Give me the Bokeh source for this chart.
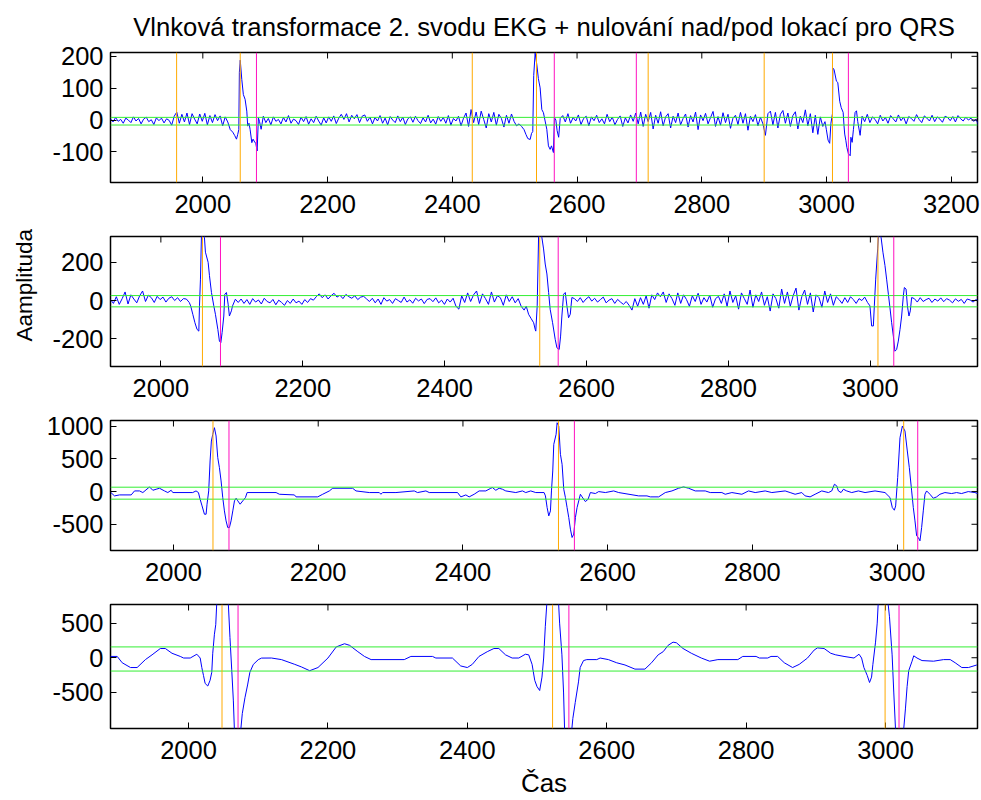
import numpy as np
from bokeh.plotting import figure
from bokeh.models import Span, Range1d, FixedTicker, Title
from bokeh.layouts import column
from bokeh.embed import file_html
from bokeh.resources import INLINE

FONT = "Liberation Sans"
FS = "25.5px"
BLUE = "#0000ff"
GREEN = "#33ee33"
ORANGE = "#ffaa00"
MAGENTA = "#ff10c0"

TITLE = "Vlnková transformace 2. svodu EKG + nulování nad/pod lokací pro QRS"
YLABEL = "Aamplituda"
XLABEL = "Čas"

# ---------------- axis limits and ticks ----------------
P1_XLIM = (1852, 3242); P1_YLIM = (-196, 212)
P2_XLIM = (1929, 3151); P2_YLIM = (-345, 335)
P3_XLIM = (1913, 3111); P3_YLIM = (-901, 1087)
P4_XLIM = (1888, 3132); P4_YLIM = (-1026, 772)

P1_XTICKS = [2000, 2200, 2400, 2600, 2800, 3000, 3200]
P1_YTICKS = [-100, 0, 100, 200]
P2_XTICKS = [2000, 2200, 2400, 2600, 2800, 3000]
P2_YTICKS = [-200, 0, 200]
P3_XTICKS = [2000, 2200, 2400, 2600, 2800, 3000]
P3_YTICKS = [-500, 0, 500, 1000]
P4_XTICKS = [2000, 2200, 2400, 2600, 2800, 3000]
P4_YTICKS = [-500, 0, 500]

# ---------------- markers ----------------
P1_ORANGE = [1958, 2060, 2432, 2535, 2714, 2900, 3009.5]
P1_MAGENTA = [2086, 2563.5, 2695, 3035]
P1_GREEN = [8.4, -15.6]
P2_ORANGE = [2058.6, 2534, 3010.7]
P2_MAGENTA = [2084, 2560, 3033]
P2_GREEN = [26, -33]
P3_ORANGE = [2054.6, 2532, 3009]
P3_MAGENTA = [2076.7, 2554, 3028.4]
P3_GREEN = [67, -116]
P4_ORANGE = [2048, 2522.3, 2999.4]
P4_MAGENTA = [2071, 2545.7, 3019.4]
P4_GREEN = [157, -193]

# ---------------- panel 1 signal ----------------
P1_A = [4, -6, 8, -4, 2, -10, 6, 0, -8, 10, -3, 5, -12, 3, 9, -5, 1, -14, 7, -2, 6, -9, 4, -1, -16,
        12, 25, -10, 18, -6, 22, -14, 20, 3, -12, 19, -4, 21, -15, 14, -8, 17, -2, 13, -18, 10, -6]
P1_Q1_T = [2044, 2048, 2051, 2054, 2056, 2057.7, 2058.6, 2060, 2062.5, 2065, 2067.8, 2070.5, 2072, 2074,
           2075.8, 2078.6, 2080.5, 2082.3, 2085, 2087.1, 2089.1, 2091, 2093.5]
P1_Q1_V = [-30, -38, -48, -60, -45, -30, 150, 188, 127, 80, 65, 28, -19, -10, -29, -71, -60, -66, -74, -97,
           7, -5, -29]
P1_B1 = [12, -8, 5, -15, 10, -4, 2, -12, 8, -6, 14, -10, 3, -2, -14, 9, -5, 11, -13, 4, -8, 12, -3, -16, 7,
         -9, 10, -4, 13, -11, 6]
P1_B2 = [18, 2, 20, -6, 15, 4, 17, -8, 12, 16, -4, 9]
P1_B3 = [-12, 8, -3, 14, -10, 6, -15, 11, 0, -8, 13, -5, 9, -14, 4, 10, -7, 12, -2, -11, 7, -6, 15, -9, 3,
         -13, 11, -4, 8, -10, 14, -16, 5, -3, 12, -18, 6]
P1_B4 = [22, -20, 33, -8, 25, -14, 28, 2, -25, 20, -6, 24, -16, 18, 5, -22, 15, -10, 19, -4, -18]
P1_Q2_T = [2507, 2511, 2515, 2518, 2521, 2524.8, 2527, 2529, 2530.5, 2532.8, 2535.5, 2538, 2540.8, 2543.5,
           2546.1, 2548.8, 2551.5, 2554.1, 2556.8, 2559, 2562.1, 2563.7, 2566, 2568, 2570.5, 2573]
P1_Q2_V = [-12, -20, -30, -45, -58, -61, -42, -36, 140, 210, 174, 130, 101, 33, 23, -3, -29, -81, -92, -81,
           -102, 8, 0, -33, -54, 5]
P1_C1 = [14, -6, 20, -10, 8, -3, 16, -14, 5, 12, -18, 10, -2, 15, -8, 4, -12, 18, -5, 9, -15, 2, 13, -20, 7,
         -9, 16, -4]
P1_C2 = [22, -12, 25, -20, 18, -5, 24, -28, 15, -10, 26, -18, 10, 20, -25, 12, -8, 22, -15, 5, 19, -22, 14,
         -6, 25, -30, 16, -2, 21, -12, 8, 27, -20, 11, -16, 23, -8, 18, -26, 6, 15, -14, 24, -10, 20, -32, 12,
         -5, 17, -18, 9, -12]
P1_C3 = [-48, 20, 28, -15, 24, -25, 18, 30, -10, 22, -20, 14, 26, -28, 12, -8, 32, -18, 20, -40, 15, -45, 10,
         -20]
P1_Q3_T = [2997.5, 2999.6, 3002.4, 3005, 3007, 3009.5, 3010.1, 3012.1, 3015.8, 3018, 3021.1, 3023.5, 3026.6,
           3028, 3029.1, 3031, 3032.6, 3035.1, 3037.9, 3039, 3041, 3043.1, 3045.8, 3048, 3050, 3053.8]
P1_Q3_V = [-5, -29, -63, -73, -10, 20, 163, 158, 122, 118, 59, 39, 24, -18, -44, -65, -86, -106, -112, -54,
           -70, -29, 24, 29, -5, -48]
P1_D = [12, -5, 18, -8, 10, 2, -12, 15, -3, 8, -10, 14, 4, -6, 16, -2, 9, -12, 11, 5, -4, 17, 2, -8, 13, 6,
        -3, 15, -5, 10, 3, -7, 12, 8, -2, 11, -6, 14, 4, -3, 9, 0, 6, -4, 2, -18]

# ---------------- panel 2 signal ----------------
P2_A = [5, -15, 20, -20, 10, 45, -18, 30, 8, -12, 25, 50, -5, 28, 15, -10, 22, 5, 18, -8, 12, 20, 0, 15, -5,
        10, 8, -10]
P2_Q1_T = [2042, 2045, 2048, 2051, 2053.5, 2054.4, 2055.8, 2057.2, 2059, 2061.4, 2062.8, 2066.6, 2068.5,
           2071.3, 2074.6, 2076.9, 2080.3, 2082.5, 2084.5, 2086.3, 2088.7, 2090.1, 2092.4, 2094.8, 2096.6,
           2099.4, 2101, 2105]
P2_Q1_V = [-28, -72, -116, -151, -160, -28, 112, 340, 430, 330, 253, 200, 130, 42, -28, -72, -151, -212,
           -221, -168, -81, 33, 42, -19, -81, -54, -28, 7]
P2_B1 = [-10, 8, -15, 5, -20, 10, -8, 3, -18, 12, -5, -12, 6, -22, 2, -10, -25, 0, -15, 8, -12, -3, -20, 5,
         -10, 10, 2]
P2_B2 = [20, 35, 15, 30, 8, 25, 38, 18, 28, 10, 32, 20, 12, 25, 5, 18, 22, 8]
P2_B3 = [-5, 12, -12, 8, -20, 15, -3, 5, -15, 10, 0, -10, 18, -8, 4, -14, 12, -2, 8, -16, 6, 10, -6, 14,
         -12, 2, -20, 8, -8, 12, -30, -45]
P2_B4 = [25, -10, 40, -5, 30, 50, -15, 35, 10, -20, 45, -8, 25, 15, -25, 30, -5, 20, -12, 10, -30, -50]
P2_Q2_T = [2515, 2518.3, 2522, 2525.4, 2527.6, 2528.4, 2530.4, 2532.4, 2535, 2537, 2539.4, 2541.7, 2544.1,
           2546.5, 2548.7, 2552.1, 2555.8, 2558.2, 2561.4, 2563.4, 2565.2, 2567.6, 2570, 2572.3, 2574.6,
           2577, 2579.3]
P2_Q2_V = [-30, -72, -95, -116, -151, -160, -28, 340, 420, 330, 270, 191, 139, 42, -46, -116, -203, -247,
           -256, -186, -81, 33, 42, -28, -90, -72, 16]
P2_C1 = [10, -5, 15, -10, 8, 20, -3, 12, -8, 5, 18, -12, 2, 10, -15, 6, -8, -20, -5, -25]
P2_C2 = [-50, 10, -30, 15, -20, 25, -40, 30, 5, 40]
P2_C3 = [20, 45, -10, 35, 10, -25, 40, -15, 30, 5, -30, 25, -5, 38, -20, 15, -8, 28, -35, 10, 22, -15]
P2_C4 = [35, -30, 50, -10, 25, -45, 40, 10, -20, 55, -35, 30, -5, 45, -25, 20, -55, 35, 10, -40, 60, -15,
         45, -30, 25, 65, -50, 20, 55, -20, 40, -60, 30, 15, -35, 50, -10, 35, -25, 20, 5, -15]
P2_C5 = [15, -10, 20, 5, -15, 10, 0, 18, -10]
P2_Q3_T = [2999.4, 3001.8, 3004.2, 3005.6, 3007.5, 3010.3, 3012, 3015.1, 3017.7, 3020.6, 3022.9, 3025.4,
           3027.6, 3030, 3032.4, 3034.6, 3037, 3039.4, 3041.8, 3044.1, 3046.5, 3047.9, 3050.3, 3052.2,
           3054.4, 3056.3, 3058.2]
P2_Q3_V = [-28, -133, -133, -28, 112, 270, 380, 330, 253, 183, 112, 33, -37, -116, -186, -265, -256, -212,
           -151, -81, 25, 68, 60, -28, -81, -54, 16]
P2_D = [10, -8, 15, -5, 5, 12, -10, 8, -3, 14, -6, 10, 2, -12, 9, -4, 6, -15, 8, 3, -8, 5, -2]

# ---------------- panel 3 signal ----------------
P3_A_T = [1913.5, 1918.6, 1925.5, 1941.6, 1946.2, 1953.1, 1957.7, 1966.9, 1971.5, 1976.1, 1980.7, 1987.6,
          1992.2, 1996.8, 1999.1, 2026.6, 2031.2, 2034.5]
P3_A_V = [-15, -66, -51, -51, 10, 10, -15, 71, 20, 36, 51, 10, -15, 20, -15, -15, 10, -15]
P3_Q1_T = [2036.8, 2039.5, 2042.8, 2045.1, 2046.4, 2048.7, 2050.6, 2052.4, 2054.3, 2056.6, 2058.9, 2061.2,
           2063.5, 2065.8, 2068.1, 2070.4, 2072.7, 2075, 2077.3, 2079.6, 2082, 2084.3, 2086.6, 2088.9,
           2092.1, 2095.8, 2099.5, 2101.8]
P3_Q1_V = [-117, -219, -346, -346, -193, 10, 468, 773, 875, 977, 850, 519, 366, 163, -91, -295, -448, -550,
           -550, -448, -295, -142, -102, -142, -193, -142, -91, -15]
P3_B_T = [2141.8, 2146.4, 2167.1, 2169.4, 2199.3, 2206.2, 2215.4, 2220, 2247.6, 2252.2, 2270.6, 2284.4,
          2286.7, 2289, 2307.4, 2332.7, 2337.3, 2348.8, 2353.4, 2392.5, 2397.1, 2404, 2408.6, 2415.5,
          2422.4, 2431.6, 2438.5, 2440.8, 2445.4, 2450, 2454.6, 2459.2, 2473, 2482.2, 2486.8, 2493.7,
          2500.6, 2512.1]
P3_B_V = [-15, -41, -51, -81, -81, -41, 10, 51, 51, 10, -15, -15, -41, -15, -15, 10, -15, 10, -15, -15,
          -81, -51, -81, -41, 10, 10, 51, 61, 20, 51, 36, 10, -15, 10, -15, 10, -15, -15]
P3_Q2_T = [2514, 2516.3, 2518.6, 2520.9, 2522.3, 2524.1, 2525.5, 2528.7, 2530.1, 2532.4, 2534.7, 2537,
           2539.3, 2541.6, 2543.9, 2546.2, 2548.5, 2550.8, 2553.1, 2555.4, 2557.7, 2560, 2562.3, 2564.6,
           2569.2, 2572.9, 2576.1]
P3_Q2_V = [-66, -244, -372, -295, 10, 315, 722, 875, 1053, 1002, 570, 417, 36, -91, -244, -397, -575, -702,
           -651, -397, -244, -142, -41, -81, -153, -117, -15]
P3_C_T = [2583, 2587.6, 2596.8, 2608.3, 2615.2, 2642.8, 2654.3, 2658.9, 2670.4, 2679.6, 2688.8, 2698,
          2704.9, 2711.8, 2721, 2734.8, 2741.7, 2757.8, 2762.4, 2771.6, 2785.4, 2794.6, 2803.8, 2817.6,
          2826.8, 2845.2, 2852.1, 2859, 2868.2, 2872.8, 2879.7, 2886.6, 2895.8, 2905, 2909.6, 2913.3,
          2916.5, 2918.8, 2922.5, 2925.7, 2930.3, 2937.2, 2946.4, 2955.6, 2969.4, 2983.2]
P3_C_V = [-30, 0, -15, 10, -15, -66, -66, -81, -81, -15, 10, 51, 71, 51, 10, 10, -15, -15, -41, -15, -41,
          10, -15, 10, -15, 10, -15, -41, -15, -66, -81, -41, 10, -15, 10, 112, 87, 10, -15, 36, 10, -15,
          10, -15, 10, -15]
P3_Q3_T = [2990.1, 2993.3, 2996.1, 2997.9, 3000.7, 3003.9, 3007.2, 3010.8, 3014, 3016.8, 3020, 3022.3,
           3024.6, 3026.9, 3029.2, 3031.5, 3033.8, 3036.1, 3038.4, 3040.7, 3045.3, 3049.9, 3054.5, 3059.1]
P3_Q3_V = [-91, -244, -285, -219, 214, 824, 1002, 926, 621, 366, 10, -244, -448, -677, -702, -753, -550,
           -295, -41, 10, -41, -102, -81, -41]
P3_D_T = [3066, 3075.2, 3082.1, 3089, 3098.2, 3107.4, 3114.3]
P3_D_V = [-15, -30, -15, -30, 0, -15, -41]

# ---------------- panel 4 signal ----------------
P4_A_T = [1887.6, 1897.6, 1904.8, 1916.7, 1926.2, 1938.1, 1947.6, 1959.5, 1966.7, 1976.2, 1988.1, 1992.9,
          2002.4, 2011.9, 2016.7]
P4_A_V = [19, 19, -73, -142, -142, -27, 42, 134, 134, 65, 19, -4, -4, 51, -4]
P4_Q1_T = [2019, 2021.4, 2023.8, 2027.6, 2030.9, 2033.3, 2034.7, 2037.1, 2039, 2040.4, 2044, 2048, 2052,
           2057.1, 2059.4, 2061.9, 2064.3, 2065.7, 2068, 2071, 2074, 2075.1, 2077.1, 2080.9, 2084.7, 2088,
           2092.9, 2100, 2104.7]
P4_Q1_V = [-142, -257, -373, -410, -327, -211, 65, 341, 479, 778, 1000, 1100, 1000, 778, 295, -166, -626,
           -1026, -1200, -1300, -1200, -1026, -810, -580, -395, -211, -97, -28, -5]
P4_B_T = [2119, 2133.3, 2152.4, 2161.9, 2173.8, 2185.7, 2200, 2211.9, 2223.8, 2231, 2242.9, 2252.4, 2261.9,
          2283.3, 2309.5, 2319, 2350, 2354.8, 2378.6, 2390.5, 2400, 2407.1, 2416.7, 2428.6, 2438.1, 2445.2,
          2454.8, 2464.3, 2473.8, 2483.3, 2488.1]
P4_B_V = [-4, -27, -96, -133, -188, -142, -4, 157, 203, 180, 88, 19, -27, -27, -27, 19, 19, -4, -4, -119,
          -142, -96, 19, 88, 134, 134, 42, -4, -4, 51, 42]
P4_Q2_T = [2492.9, 2496.7, 2500, 2503.8, 2507.1, 2509.5, 2511.9, 2514, 2518, 2522, 2526, 2531, 2532.4,
           2535.7, 2538.1, 2539.5, 2542, 2545, 2548, 2550, 2551.4, 2554.8, 2559.5, 2561.9, 2566.7, 2571.4]
P4_Q2_V = [-96, -327, -419, -475, -281, -4, 456, 778, 1000, 1100, 1000, 778, 502, 42, -511, -1026, -1200,
           -1300, -1200, -1026, -880, -650, -350, -142, -41, -27]
P4_C_T = [2585.7, 2590.5, 2602.4, 2614.3, 2626.2, 2640.5, 2654.8, 2664.3, 2673.8, 2681, 2688.1, 2695.2,
          2700, 2709.5, 2721.4, 2735.7, 2747.6, 2759.5, 2788.1, 2795.2, 2814.3, 2819, 2831, 2835.7, 2845.2,
          2854.8, 2866.7, 2876.2, 2888.1, 2897.6, 2902.4, 2911.9, 2921.4, 2928.6, 2940.5, 2954.8, 2962,
          2965.7]
P4_C_V = [-27, -4, -27, -73, -105, -165, -165, -73, 42, 88, 180, 226, 217, 134, 65, -4, -50, -27, -27, 19,
          19, -4, -4, 19, 19, -73, -142, -96, -4, 111, 143, 134, 65, 42, 19, -4, 51, -4]
P4_Q3_T = [2969, 2973.8, 2977.1, 2980, 2981.9, 2985.7, 2988.1, 2989.5, 2993, 2997, 3001, 3003.8, 3005.7,
           3009.5, 3011.9, 3014.3, 3017, 3020, 3023, 3026.2, 3028.6, 3031, 3033.3, 3038.1, 3040.5, 3045.2,
           3052.4]
P4_Q3_V = [-142, -257, -359, -281, -96, 226, 502, 778, 1000, 1100, 1000, 778, 594, 42, -511, -1026, -1200,
           -1300, -1200, -1026, -742, -419, -188, -50, 28, -4, -41]
P4_D_T = [3069, 3083.3, 3092.9, 3100, 3109.5, 3119, 3131]
P4_D_V = [-50, -27, -27, -73, -142, -142, -105]


def noise(x0, x1, vals):
    return list(np.linspace(x0, x1, len(vals))), list(vals)


def join(*parts):
    xs, ys = [], []
    for t, v in parts:
        xs.extend(t)
        ys.extend(v)
    xs = np.asarray(xs, dtype=float)
    ys = np.asarray(ys, dtype=float)
    order = np.argsort(xs, kind="stable")
    return xs[order], ys[order]


P1_X, P1_Y = join(noise(1852, 2040, P1_A), (P1_Q1_T, P1_Q1_V),
                  noise(2097, 2218, P1_B1), noise(2222, 2268, P1_B2), noise(2272, 2418, P1_B3),
                  noise(2422, 2503, P1_B4), (P1_Q2_T, P1_Q2_V),
                  noise(2577, 2690, P1_C1), noise(2694, 2898, P1_C2), noise(2902, 2994, P1_C3),
                  (P1_Q3_T, P1_Q3_V), noise(3057, 3244, P1_D))
P2_X, P2_Y = join(noise(1929, 2040, P2_A), (P2_Q1_T, P2_Q1_V),
                  noise(2109, 2215, P2_B1), noise(2219, 2290, P2_B2), noise(2294, 2420, P2_B3),
                  noise(2424, 2512, P2_B4), (P2_Q2_T, P2_Q2_V),
                  noise(2583, 2660, P2_C1), noise(2664, 2700, P2_C2), noise(2704, 2790, P2_C3),
                  noise(2794, 2960, P2_C4), noise(2964, 2996, P2_C5),
                  (P2_Q3_T, P2_Q3_V), noise(3062, 3153, P2_D))
P3_X, P3_Y = join((P3_A_T, P3_A_V), (P3_Q1_T, P3_Q1_V), (P3_B_T, P3_B_V), (P3_Q2_T, P3_Q2_V),
                  (P3_C_T, P3_C_V), (P3_Q3_T, P3_Q3_V), (P3_D_T, P3_D_V))
P4_X, P4_Y = join((P4_A_T, P4_A_V), (P4_Q1_T, P4_Q1_V), (P4_B_T, P4_B_V), (P4_Q2_T, P4_Q2_V),
                  (P4_C_T, P4_C_V), (P4_Q3_T, P4_Q3_V), (P4_D_T, P4_D_V))

TICK_LEN = 6
RIGHT_BORDER = 4
FRAME_H = 130


def style_axis(ax, ticks):
    ax.ticker = FixedTicker(ticks=ticks, minor_ticks=[])
    ax.axis_line_color = None
    ax.major_tick_in = TICK_LEN
    ax.major_tick_out = 0
    ax.major_tick_line_color = "black"
    ax.major_tick_line_width = 1
    ax.minor_tick_line_color = None
    ax.major_label_overrides = {t: str(t) for t in ticks}
    ax.major_label_text_font = FONT
    ax.major_label_text_font_size = FS
    ax.major_label_text_color = "black"


def make_panel(x, y, xlim, ylim, xticks, yticks, orange, magenta, green, left, top, bottom):
    p = figure(width=981, height=top + FRAME_H + bottom,
               x_range=Range1d(*xlim), y_range=Range1d(*ylim),
               output_backend="svg", toolbar_location=None,
               min_border_left=left, min_border_right=RIGHT_BORDER,
               min_border_top=top, min_border_bottom=bottom,
               background_fill_color="white", border_fill_color="white")
    p.xgrid.visible = False
    p.ygrid.visible = False
    p.outline_line_color = "black"
    p.outline_line_width = 1.5
    xa = p.below[0]
    ya = p.left[0]
    style_axis(xa, xticks)
    style_axis(ya, yticks)
    xa.major_label_standoff = 12
    ya.major_label_standoff = 7

    p.line(x, y, line_color=BLUE, line_width=1)
    for g in green:
        p.add_layout(Span(location=g, dimension="width", line_color=GREEN, line_width=1))
    for o in orange:
        p.add_layout(Span(location=o, dimension="height", line_color=ORANGE, line_width=1))
    for m in magenta:
        p.add_layout(Span(location=m, dimension="height", line_color=MAGENTA, line_width=1))
    # mirrored inner ticks on the top and right edges (box on)
    p.ray(x=xticks, y=[ylim[1]] * len(xticks), length=TICK_LEN, length_units="screen",
          angle=-np.pi / 2, line_color="black", line_width=1)
    p.ray(x=[xlim[1]] * len(yticks), y=yticks, length=TICK_LEN, length_units="screen",
          angle=np.pi, line_color="black", line_width=1)
    return p, xa, ya


p1, x1a, y1a = make_panel(P1_X, P1_Y, P1_XLIM, P1_YLIM, P1_XTICKS, P1_YTICKS, P1_ORANGE, P1_MAGENTA,
                          P1_GREEN, 110, 52, 44)
p2, x2a, y2a = make_panel(P2_X, P2_Y, P2_XLIM, P2_YLIM, P2_XTICKS, P2_YTICKS, P2_ORANGE, P2_MAGENTA,
                          P2_GREEN, 108, 10, 44)
p3, x3a, y3a = make_panel(P3_X, P3_Y, P3_XLIM, P3_YLIM, P3_XTICKS, P3_YTICKS, P3_ORANGE, P3_MAGENTA,
                          P3_GREEN, 108, 10, 44)
p4, x4a, y4a = make_panel(P4_X, P4_Y, P4_XLIM, P4_YLIM, P4_XTICKS, P4_YTICKS, P4_ORANGE, P4_MAGENTA,
                          P4_GREEN, 108, 10, 66)

p1.title.text = TITLE
p1.title.align = "center"
p1.title.vertical_align = "top"
p1.title.text_font = FONT
p1.title.text_font_size = "25.7px"
p1.title.text_font_style = "normal"
p1.title.text_color = "black"
p1.title.standoff = 19

ylab = Title(text=YLABEL, align="left", vertical_align="top", offset=25, standoff=21, text_font=FONT,
             text_font_size="22.5px", text_font_style="normal", text_color="black")
p2.add_layout(ylab, "left")

x4a.axis_label = XLABEL
x4a.axis_label_text_font = FONT
x4a.axis_label_text_font_size = "26px"
x4a.axis_label_text_font_style = "normal"
x4a.axis_label_text_color = "black"
x4a.axis_label_standoff = 6

layout = column(p1, p2, p3, p4, spacing=0)
open("out.html", "w").write(file_html(layout, INLINE))
